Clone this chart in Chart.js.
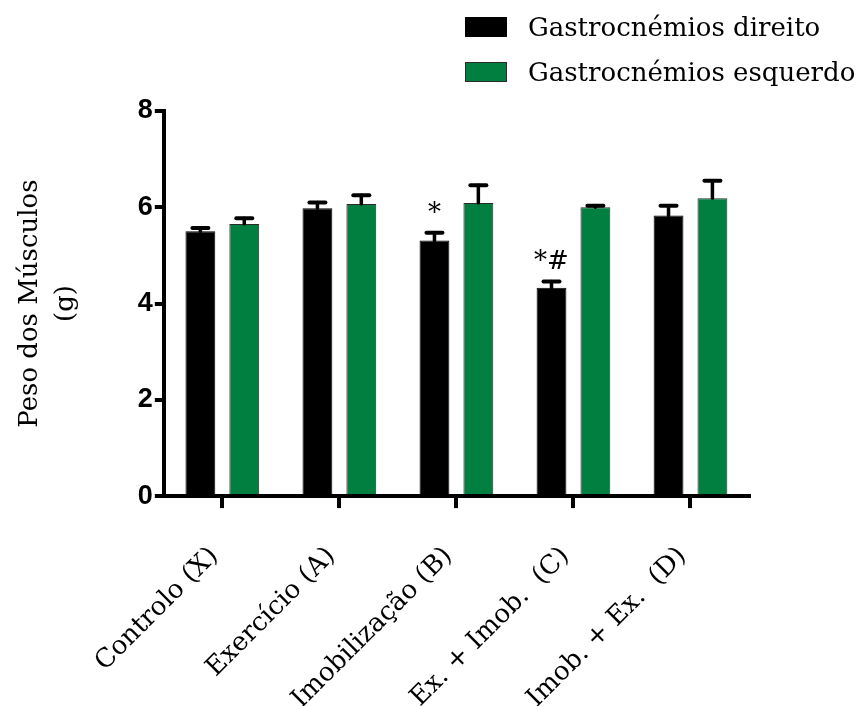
<!doctype html>
<html lang="pt">
<head>
  <meta charset="utf-8">
  <title>Peso dos Músculos</title>
  <script src="https://cdn.jsdelivr.net/npm/chart.js@4.4.1/dist/chart.umd.min.js"></script>
  <style>
    html, body { margin: 0; padding: 0; background: #fff; }
    #wrap { position: relative; width: 863px; height: 706px; overflow: hidden; }
    #legend { position: absolute; left: 465px; top: 4px; font-family: "DejaVu Serif", serif; font-size: 26px; color: #000; }
    #legend .item { display: flex; align-items: center; height: 45px; }
    #legend .box { width: 42px; height: 20px; margin-right: 21px; box-sizing: border-box; }
  </style>
</head>
<body>
  <div id="wrap">
    <canvas id="chart" width="863" height="706"></canvas>
    <div id="legend"></div>
  </div>

  <script>
    // values (g)
    var categories = ['Controlo (X)', 'Exercício (A)', 'Imobilização (B)', 'Ex. + Imob.  (C)', 'Imob. + Ex.  (D)'];
    var direito = [5.50, 5.98, 5.31, 4.33, 5.83];
    var direitoErr = [0.07, 0.12, 0.16, 0.13, 0.20];
    var esquerdo = [5.65, 6.07, 6.09, 6.00, 6.19];
    var esquerdoErr = [0.12, 0.18, 0.37, 0.03, 0.36];
    var signif = ['', '', '*', '*#', ''];
    var yTicks = [0, 2, 4, 6, 8];

    var serif = '"DejaVu Serif", serif';

    // upper error bars + significance marks
    var errorBars = {
      id: 'errorBars',
      afterDatasetsDraw: function (chart) {
        var ctx = chart.ctx;
        var y = chart.scales.y;
        ctx.save();
        chart.data.datasets.forEach(function (ds, i) {
          var meta = chart.getDatasetMeta(i);
          meta.data.forEach(function (bar, j) {
            var top = y.getPixelForValue(ds.data[j] + ds.errors[j]);
            ctx.strokeStyle = '#000';
            ctx.lineCap = 'round';
            ctx.lineWidth = 3.5;
            ctx.beginPath();
            ctx.moveTo(bar.x, bar.y);
            ctx.lineTo(bar.x, top);
            ctx.stroke();
            ctx.lineWidth = 4;
            ctx.beginPath();
            ctx.moveTo(bar.x - 8, top);
            ctx.lineTo(bar.x + 8, top);
            ctx.stroke();
            if (ds.marks && ds.marks[j]) {
              ctx.fillStyle = '#000';
              ctx.font = '26px ' + serif;
              ctx.textAlign = 'center';
              ctx.textBaseline = 'alphabetic';
              ctx.fillText(ds.marks[j], bar.x, top - 12);
            }
          });
        });
        ctx.restore();
      }
    };

    var chart = new Chart(document.getElementById('chart'), {
      type: 'bar',
      data: {
        labels: categories,
        datasets: [{
          label: 'Gastrocnémios direito',
          data: direito,
          errors: direitoErr,
          marks: signif,
          backgroundColor: '#000000',
          borderColor: '#000000',
          borderWidth: 1
        }, {
          label: 'Gastrocnémios esquerdo',
          data: esquerdo,
          errors: esquerdoErr,
          backgroundColor: '#007f40',
          borderColor: '#2b2b2b',
          borderWidth: 1
        }]
      },
      options: {
        responsive: false,
        animation: false,
        categoryPercentage: 0.75,
        barPercentage: 0.68,
        layout: { padding: { top: 111, right: 114, left: 12, bottom: -42 } },
        plugins: {
          legend: { display: false },
          tooltip: { enabled: false }
        },
        scales: {
          x: {
            offset: true,
            grid: { offset: false, drawOnChartArea: false, tickLength: 12, lineWidth: 4, color: '#000' },
            border: { display: true, width: 4, color: '#000' },
            ticks: {
              minRotation: 45, maxRotation: 45, padding: 33, labelOffset: -8, color: '#000',
              font: { family: serif, size: 26 }
            }
          },
          y: {
            min: 0, max: 8,
            afterBuildTicks: function (scale) {
              scale.ticks = yTicks.map(function (v) { return { value: v }; });
            },
            grid: { drawOnChartArea: false, tickLength: 9, lineWidth: 4, color: '#000' },
            border: { display: true, width: 4, color: '#000' },
            ticks: {
              padding: 2, color: '#000',
              font: { family: '"Liberation Sans", Arial, sans-serif', size: 27, weight: 'bold' }
            },
            title: {
              display: true,
              text: ['Peso dos Músculos', '(g)'],
              color: '#000',
              font: { family: serif, size: 26, lineHeight: 1.4 },
              padding: { top: 0, bottom: 51 }
            }
          }
        }
      },
      plugins: [errorBars]
    });

    // legend built from the datasets
    var legend = document.getElementById('legend');
    chart.data.datasets.forEach(function (ds) {
      var item = document.createElement('div');
      item.className = 'item';
      var box = document.createElement('span');
      box.className = 'box';
      box.style.background = ds.backgroundColor;
      box.style.border = '1px solid ' + ds.borderColor;
      var txt = document.createElement('span');
      txt.textContent = ds.label;
      item.appendChild(box);
      item.appendChild(txt);
      legend.appendChild(item);
    });
  </script>
</body>
</html>
